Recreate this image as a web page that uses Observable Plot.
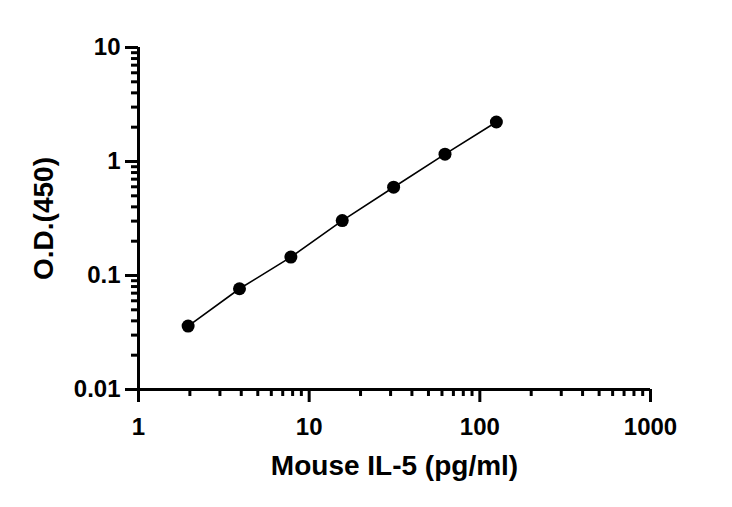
<!DOCTYPE html>
<html>
<head>
<meta charset="utf-8">
<script src="https://cdn.jsdelivr.net/npm/d3@7"></script>
<script src="https://cdn.jsdelivr.net/npm/@observablehq/plot@0.6"></script>
<style>
  html, body { margin: 0; padding: 0; background: #fff; }
</style>
</head>
<body>
<div id="chart"></div>
<script>
const concentration = [1.953, 3.906, 7.8125, 15.625, 31.25, 62.5, 125];
const od = [0.036, 0.0765, 0.145, 0.303, 0.595, 1.16, 2.22];
const xMajor = [1, 10, 100, 1000];
const yMajor = [0.01, 0.1, 1, 10];
const xTitle = "Mouse IL-5 (pg/ml)";
const yTitle = "O.D.(450)";

const data = concentration.map((c, i) => ({x: c, y: od[i]}));

function minors(majors) {
  const out = [];
  for (let i = 0; i < majors.length - 1; i++) {
    for (let k = 2; k <= 9; k++) out.push(majors[i] * k);
  }
  return out;
}
const xMinor = minors(xMajor);
const yMinor = minors(yMajor);

const font = "Liberation Sans, Arial, sans-serif";

const chart = Plot.plot({
  width: 732,
  height: 507,
  marginLeft: 138,
  marginRight: 82,
  marginTop: 47,
  marginBottom: 118,
  style: {fontFamily: font, fontWeight: "bold", background: "#fff", color: "#000"},
  x: {type: "log", domain: [1, 1000]},
  y: {type: "log", domain: [0.01, 10]},
  marks: [
    Plot.axisX(xMinor, {tickSize: 7, strokeWidth: 3, tickFormat: () => "", stroke: "#000", label: null}),
    Plot.axisY(yMinor, {tickSize: 7, strokeWidth: 3, tickFormat: () => "", stroke: "#000", label: null}),
    Plot.axisX(xMajor, {tickSize: 13, tickPadding: 15, strokeWidth: 3, fontSize: 24, fontWeight: "bold", fontFamily: font, fill: "#000", stroke: "#000", tickFormat: d => String(d), label: null}),
    Plot.axisY(yMajor, {tickSize: 13, tickPadding: 5, strokeWidth: 3, fontSize: 24, fontWeight: "bold", fontFamily: font, fill: "#000", stroke: "#000", tickFormat: d => String(d), label: null}),
    Plot.ruleY([0.01], {stroke: "#000", strokeWidth: 3}),
    Plot.ruleX([1], {stroke: "#000", strokeWidth: 3}),
    Plot.line(data, {x: "x", y: "y", stroke: "#000", strokeWidth: 1.6}),
    Plot.dot(data, {x: "x", y: "y", r: 6.5, fill: "#000", stroke: "none"}),
    Plot.text([xTitle], {frameAnchor: "bottom", dy: 77, fontSize: 28, fontWeight: "bold", fontFamily: font, fill: "#000", lineAnchor: "middle", textAnchor: "middle"}),
    Plot.text([yTitle], {frameAnchor: "left", dx: -94, rotate: -90, fontSize: 28, fontWeight: "bold", fontFamily: font, fill: "#000", lineAnchor: "middle", textAnchor: "middle"})
  ]
});
document.getElementById("chart").appendChild(chart);
</script>
</body>
</html>
